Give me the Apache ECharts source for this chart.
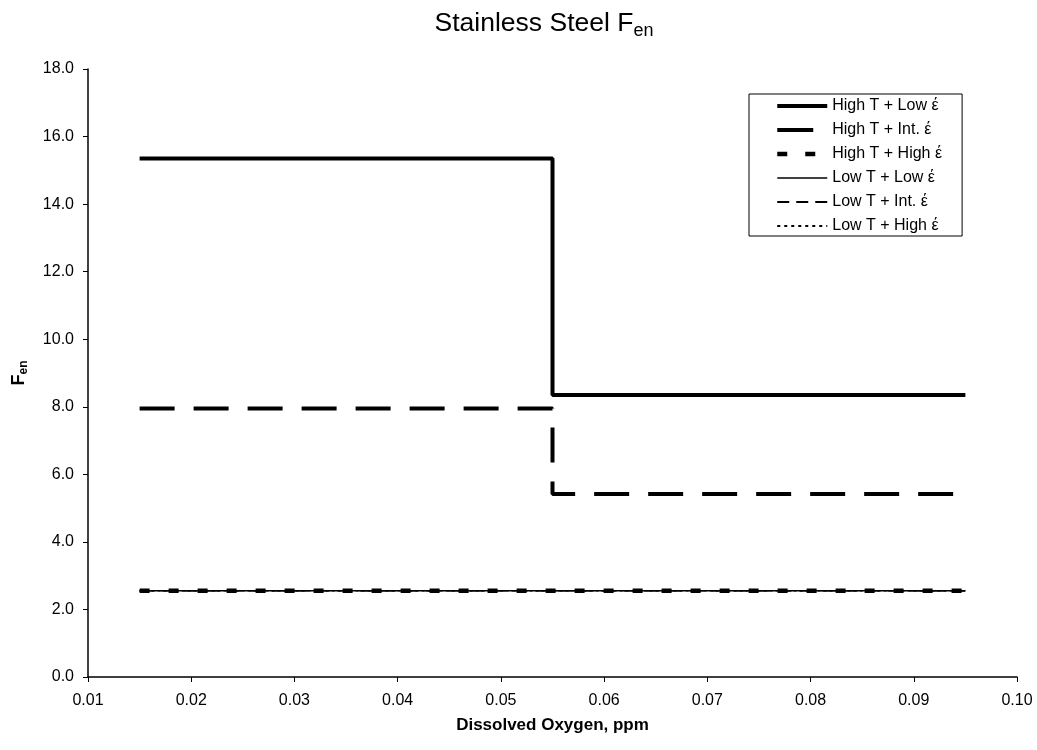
<!DOCTYPE html>
<html>
<head>
<meta charset="utf-8">
<script src="https://cdn.jsdelivr.net/npm/echarts@6/dist/echarts.min.js"></script>
<style>
html,body{margin:0;padding:0;background:#fff;}
#c{width:1037px;height:750px;}
</style>
</head>
<body>
<div id="c"></div>
<script>
const xSteps = [0.015, 0.055, 0.055, 0.095];
const seriesNames = ['High T + Low έ','High T + Int. έ','High T + High έ','Low T + Low έ','Low T + Int. έ','Low T + High έ'];
const highLow = [15.35, 15.35, 8.35, 8.35];
const highInt = [7.95, 7.95, 5.42, 5.42];
const highHigh = [2.55, 2.55, 2.55, 2.55];
const lowLow = [2.55, 2.55, 2.55, 2.55];
const lowInt = [2.55, 2.55, 2.55, 2.55];
const lowHigh = [2.55, 2.55, 2.55, 2.55];
const yTicks = [0,2,4,6,8,10,12,14,16,18];

const values = [highLow, highInt, highHigh, lowLow, lowInt, lowHigh];
const styles = [
  {width:4, type:'solid'},
  {width:4, type:[35,19]},
  {width:4.5, type:[10,19]},
  {width:1.5, type:'solid'},
  {width:1.5, type:[14,8]},
  {width:1.5, type:[3,3]}
];
const legendStyles = [
  {width:4, type:'solid'},
  {width:4, type:[36,20]},
  {width:4.5, type:[10,18]},
  {width:1.5, type:'solid'},
  {width:2, type:[12,7]},
  {width:2, type:[3,4]}
];
const drawOrder = [0,1,3,4,5,2];

const FONT = 'Liberation Sans, Arial, sans-serif';

const series = drawOrder.map(i => ({
  name: seriesNames[i],
  type: 'line',
  data: xSteps.map((x,k)=>[x, values[i][k]]),
  symbol: 'none',
  lineStyle: {color:'#000', width: styles[i].width, type: styles[i].type, cap:'butt'},
  itemStyle: {color:'#000'},
  z: i === 2 ? 3 : 2,
  animation: false
}));

const legendData = seriesNames.map((n,i) => ({
  name: n,
  itemStyle: {opacity: 0},
  lineStyle: {color:'#000', width: legendStyles[i].width, type: legendStyles[i].type, cap:'butt'}
}));

const chart = echarts.init(document.getElementById('c'));
chart.setOption({
  backgroundColor:'#fff',
  animation:false,
  title:{
    text:'{m|Stainless Steel F}{s|en}',
    left: 539, top: 3, textAlign:'center',
    textStyle:{
      rich:{
        m:{fontFamily:FONT, fontSize:26.5, color:'#000', fontWeight:'normal'},
        s:{fontFamily:FONT, fontSize:18, color:'#000', fontWeight:'normal', verticalAlign:'bottom', padding:[14,0,0,0]}
      }
    }
  },
  grid:{left:88, right:20, top:69, bottom:73, containLabel:false},
  legend:{
    orient:'vertical',
    left:749, top:94,
    data: legendData,
    itemWidth:50, itemHeight:16, itemGap:8,
    backgroundColor:'#fff',
    borderColor:'#000', borderWidth:1,
    padding:[4,20,2,26],
    itemStyle:{opacity:0},
    textStyle:{fontFamily:FONT, fontSize:16, color:'#000'}
  },
  xAxis:{
    type:'value', min:0.01, max:0.10, interval:0.01,
    name:'Dissolved Oxygen, ppm', nameLocation:'middle', nameGap:40,
    nameTextStyle:{fontFamily:FONT, fontSize:17, fontWeight:'bold', color:'#000'},
    axisLine:{lineStyle:{color:'#000', width:1.5}},
    axisTick:{show:true, inside:false, length:5, lineStyle:{color:'#000'}},
    axisLabel:{fontFamily:FONT, fontSize:16, color:'#000', margin:16,
      formatter: v => v.toFixed(2)},
    splitLine:{show:false}
  },
  yAxis:{
    type:'value', min:yTicks[0], max:yTicks[yTicks.length-1], interval:2,
    name:'{b|F}{s|en}', nameLocation:'middle', nameGap:58, nameRotate:90,
    nameTextStyle:{
      rich:{
        b:{fontFamily:FONT, fontSize:18, fontWeight:'bold', color:'#000'},
        s:{fontFamily:FONT, fontSize:12, fontWeight:'bold', color:'#000', verticalAlign:'bottom', padding:[10,0,0,0]}
      }
    },
    axisLine:{show:true, lineStyle:{color:'#000', width:1.5}},
    axisTick:{show:true, inside:false, length:5, lineStyle:{color:'#000'}},
    axisLabel:{fontFamily:FONT, fontSize:16, color:'#000', margin:14,
      formatter: v => v.toFixed(1)},
    splitLine:{show:false}
  },
  series: series
});
</script>
</body>
</html>
